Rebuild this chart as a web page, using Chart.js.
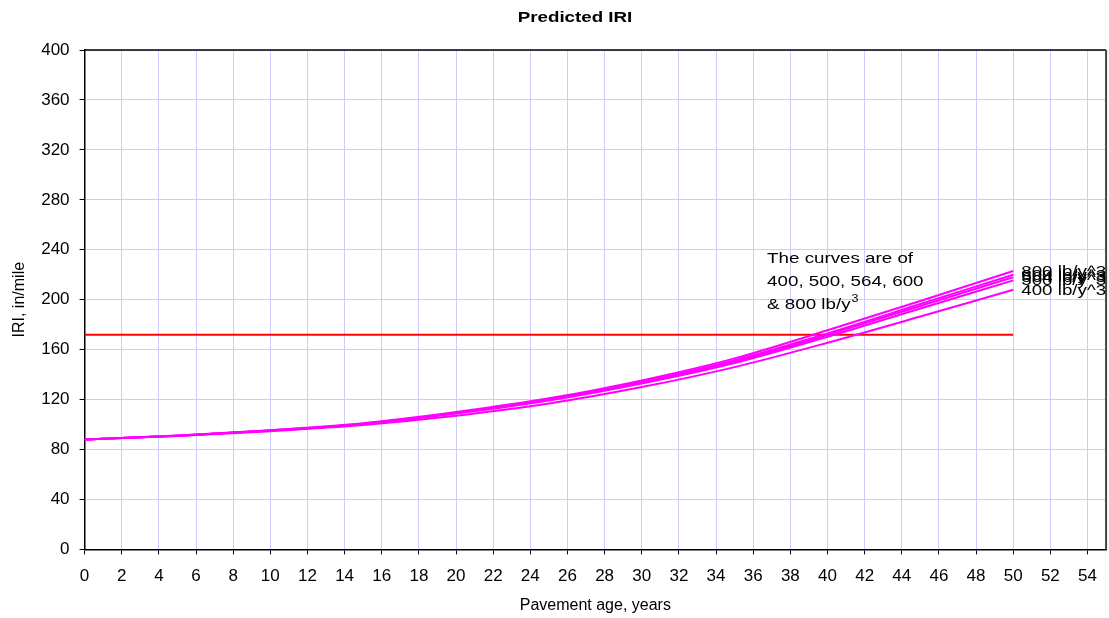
<!DOCTYPE html>
<html>
<head>
<meta charset="utf-8">
<script src="https://cdn.jsdelivr.net/npm/chart.js@4/dist/chart.umd.min.js"></script>
<style>
  html, body { margin: 0; padding: 0; background: #fff; }
  #wrap { width: 1109px; height: 618px; }
</style>
</head>
<body>
<div id="wrap"><canvas id="chart"></canvas></div>
<script>
var YEARS = [0, 5, 10, 15, 20, 25, 30, 35, 40, 45, 50];
var IRI_400 = [88, 90.9, 94.7, 99.6, 107, 116.8, 130, 146, 165.5, 186.5, 208];
var IRI_500 = [88, 91, 95.1, 100.3, 108.8, 119.3, 132.9, 149.3, 170.3, 193, 215.5];
var IRI_564 = [88, 91.1, 95.2, 100.5, 109.2, 119.8, 133.7, 150.4, 171.8, 195, 218];
var IRI_600 = [88, 91.1, 95.3, 100.7, 109.5, 120.3, 134.4, 151.5, 173, 196.5, 220];
var IRI_800 = [88, 91.2, 95.5, 101, 110, 121, 135.4, 153, 175.5, 199, 223];
var LIMIT_X = [0, 50];
var LIMIT_Y = [172, 172];
var CURVE_LABELS = ['400 lb/y^3', '500 lb/y^3', '564 lb/y^3', '600 lb/y^3', '800 lb/y^3'];
var NOTE = ['The curves are of', '400, 500, 564, 600', '& 800 lb/y'];
var TITLE = 'Predicted IRI';

var FONT = 'Arial, "Liberation Sans", sans-serif';
var MAGENTA = '#ff00ff';
var STRETCH = 1.25; // the original text is wider than it is tall

var pts = function (xs, ys) {
    return xs.map(function (x, i) { return { x: x, y: ys[i] }; });
};
var curve = function (label, ys) {
    return {
        label: label,
        data: pts(YEARS, ys),
        borderColor: MAGENTA,
        borderWidth: 2,
        pointRadius: 0,
        fill: false,
        cubicInterpolationMode: 'monotone'
    };
};
// draw text squeezed wide like the original
var wideText = function (c, t, x, y) {
    c.save();
    c.translate(x, y);
    c.scale(STRETCH, 1);
    c.fillText(t, 0, 0);
    c.restore();
    return c.measureText(t).width * STRETCH;
};

// title, frame round the plot, curve end labels and the note
var extras = {
    id: 'extras',
    afterDatasetsDraw: function (chart) {
        var c = chart.ctx, a = chart.chartArea;
        var xs = chart.scales.x, ys = chart.scales.y;
        c.save();
        c.strokeStyle = '#000';
        c.lineWidth = 1.5;
        c.beginPath();
        c.moveTo(a.left, a.top);
        c.lineTo(a.right, a.top);
        c.stroke();
        c.strokeStyle = '#444';
        c.lineWidth = 2;
        c.beginPath();
        c.moveTo(a.right, a.top);
        c.lineTo(a.right, a.bottom);
        c.stroke();

        c.fillStyle = '#000';
        c.textAlign = 'left';
        c.textBaseline = 'middle';
        c.font = 'bold 15px ' + FONT;
        var tw = c.measureText(TITLE).width * STRETCH;
        wideText(c, TITLE, 575 - tw / 2, 18);

        c.font = '15px ' + FONT;
        chart.data.datasets.slice(0, 5).forEach(function (ds, i) {
            var last = ds.data[ds.data.length - 1];
            wideText(c, CURVE_LABELS[i], xs.getPixelForValue(last.x) + 8, ys.getPixelForValue(last.y) + 1);
        });

        var nx = xs.getPixelForValue(36.75), ny = ys.getPixelForValue(229.5);
        c.textBaseline = 'alphabetic';
        var w = 0;
        NOTE.forEach(function (t, i) {
            w = wideText(c, t, nx, ny + i * 23);
        });
        c.font = '10px ' + FONT;
        wideText(c, '3', nx + w + 1, ny + 2 * 23 - 7);
        c.restore();
    }
};

new Chart(document.getElementById('chart').getContext('2d'), {
    type: 'line',
    data: {
        datasets: [
            curve('400', IRI_400),
            curve('500', IRI_500),
            curve('564', IRI_564),
            curve('600', IRI_600),
            curve('800', IRI_800),
            {
                label: 'limit',
                data: pts(LIMIT_X, LIMIT_Y),
                borderColor: '#ff0000',
                borderWidth: 2,
                pointRadius: 0,
                fill: false
            }
        ]
    },
    options: {
        responsive: true,
        maintainAspectRatio: false,
        animation: false,
        layout: { padding: { left: 10, right: 2, top: 50, bottom: 3 } },
        plugins: {
            legend: { display: false },
            tooltip: { enabled: false },
            title: { display: false }
        },
        scales: {
            x: {
                type: 'linear',
                min: 0,
                max: 55,
                border: { display: true, color: '#000', width: 1.5 },
                grid: { color: '#ccccff', lineWidth: 1, tickColor: '#000', tickLength: 5 },
                ticks: {
                    stepSize: 2,
                    includeBounds: false,
                    maxRotation: 0,
                    autoSkip: false,
                    color: '#000',
                    padding: 12,
                    font: { family: FONT, size: 17 }
                },
                title: {
                    display: true,
                    text: 'Pavement age, years',
                    color: '#000',
                    font: { family: FONT, size: 16 },
                    padding: { top: -3, bottom: 0 }
                }
            },
            y: {
                min: 0,
                max: 400,
                border: { display: true, color: '#000', width: 1.5 },
                grid: { color: '#ccccff', lineWidth: 1, tickColor: '#000', tickLength: 5 },
                ticks: {
                    stepSize: 40,
                    color: '#000',
                    padding: 10,
                    font: { family: FONT, size: 17 }
                },
                title: {
                    display: true,
                    text: 'IRI, in/mile',
                    color: '#000',
                    font: { family: FONT, size: 16 },
                    padding: { top: 0, bottom: 2 }
                }
            }
        }
    },
    plugins: [extras]
});
</script>
</body>
</html>
